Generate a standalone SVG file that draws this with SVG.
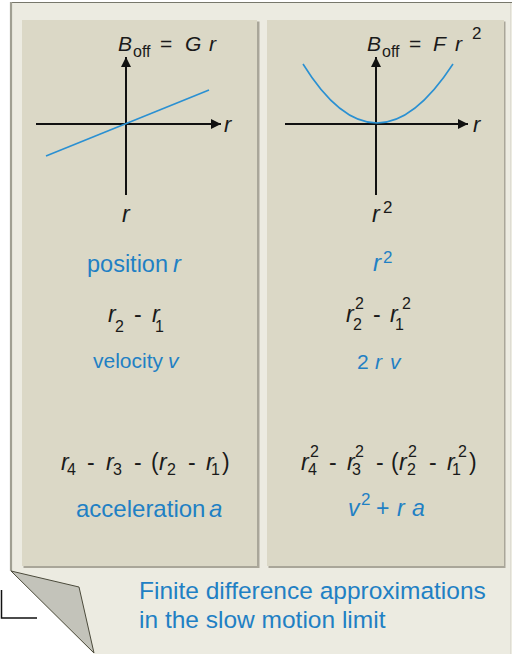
<svg xmlns="http://www.w3.org/2000/svg" width="512" height="654" viewBox="0 0 512 654">
<style>
text{font-family:"Liberation Sans",Arial,sans-serif;fill:#1a1a1a}
.i{font-style:italic}
.b{fill:#1f80c4}
.m{font-size:23px}
.s{font-size:16px}
.axis{stroke:#111;stroke-width:2;fill:none}
.curve{stroke:#2a90d2;stroke-width:1.6;fill:none}
.panel{fill:#dbd8c6}
.shadow{fill:#a9a699}
</style>
<defs>
<marker id="ah" viewBox="0 0 10 10" refX="10" refY="5" markerWidth="10" markerHeight="10" markerUnits="userSpaceOnUse" orient="auto">
<path d="M0,0 L10,5 L0,10 Z" fill="#111"/>
</marker>
</defs>
<rect width="512" height="654" fill="#ffffff"/>
<g id="page">
<path d="M11,2 H512 V654 H94 L11,571 Z" fill="#ecebe1"/>
<line x1="10" y1="2.5" x2="512" y2="2.5" stroke="#77776b" stroke-width="1.2"/>
<line x1="11" y1="2" x2="11" y2="571" stroke="#a09f92" stroke-width="2.2"/>
<line x1="510.5" y1="3" x2="510.5" y2="654" stroke="#dedcd2" stroke-width="1"/>
<path d="M11,571 L79,587 L94,653 Z" fill="#c3c3ba" stroke="#4c4b3c" stroke-width="1"/>
<path d="M1.5,590 V618 H37" fill="none" stroke="#111" stroke-width="1.5"/>
</g>
<g id="panel-left">
<rect class="shadow" x="23.5" y="21.5" width="236" height="546.5"/>
<rect class="panel" x="22" y="20" width="235" height="546"/>
</g>
<g id="panel-right">
<rect class="shadow" x="268.5" y="21.5" width="237" height="546.5"/>
<rect class="panel" x="267" y="20" width="237" height="546"/>
</g>
<g id="connectors">
<line class="axis" x1="126" y1="195" x2="126" y2="57" marker-end="url(#ah)"/>
<line class="axis" x1="36" y1="124" x2="221" y2="124" marker-end="url(#ah)"/>
<line class="axis" x1="376" y1="195" x2="376" y2="57" marker-end="url(#ah)"/>
<line class="axis" x1="285" y1="124" x2="468" y2="124" marker-end="url(#ah)"/>
<line class="curve" x1="46" y1="156" x2="209" y2="90"/>
<path class="curve" d="M303,64 Q376,182 453,64"/>
</g>
<g id="title-left">
<text font-size="21" y="51"><tspan x="118" class="i">B</tspan><tspan x="133" y="57" font-size="16">off</tspan><tspan x="160" y="51">=</tspan><tspan x="185" class="i">G</tspan><tspan x="209" class="i">r</tspan></text>
</g>
<g id="title-right">
<text font-size="21" y="51"><tspan x="367" class="i">B</tspan><tspan x="382" y="57" font-size="16">off</tspan><tspan x="409" y="51">=</tspan><tspan x="433" class="i">F</tspan><tspan x="455" class="i">r</tspan><tspan x="472" y="39" font-size="17">2</tspan></text>
</g>
<g id="axis-labels">
<text class="i" font-size="22" x="224" y="132">r</text>
<text class="i" font-size="22" x="473" y="132">r</text>
<text class="i" font-size="23" x="122" y="222">r</text>
<text font-size="23" y="222"><tspan class="i" x="372">r</tspan><tspan x="383" y="213" font-size="17">2</tspan></text>
</g>
<g id="left-column">
<text class="b" font-size="23.5" y="272"><tspan x="87">position</tspan><tspan class="i" x="173">r</tspan></text>
<text class="m" y="322"><tspan class="i" x="108">r</tspan><tspan class="s" x="115" y="332">2</tspan><tspan x="134" y="322">-</tspan><tspan class="i" x="152">r</tspan><tspan class="s" x="155" y="332">1</tspan></text>
<text class="b" font-size="21" y="368"><tspan x="93">velocity</tspan><tspan class="i" x="168">v</tspan></text>
<text class="m" y="470"><tspan class="i" x="61">r</tspan><tspan class="s" x="67" y="475">4</tspan><tspan x="87" y="470">-</tspan><tspan class="i" x="106">r</tspan><tspan class="s" x="113" y="475">3</tspan><tspan x="134" y="470">-</tspan><tspan x="151">(</tspan><tspan class="i" x="159">r</tspan><tspan class="s" x="167" y="475">2</tspan><tspan x="188" y="470">-</tspan><tspan class="i" x="206">r</tspan><tspan class="s" x="211" y="475">1</tspan><tspan x="222" y="470">)</tspan></text>
<text class="b" font-size="24" y="517"><tspan x="76">acceleration</tspan><tspan class="i" x="209">a</tspan></text>
</g>
<g id="right-column">
<text class="b" font-size="24" y="271"><tspan class="i" x="373">r</tspan><tspan x="383" y="263" font-size="17">2</tspan></text>
<text class="m" y="322"><tspan class="i" x="346">r</tspan><tspan class="s" x="353" y="330">2</tspan><tspan class="s" x="355" y="309">2</tspan><tspan x="373" y="322">-</tspan><tspan class="i" x="390">r</tspan><tspan class="s" x="395" y="330">1</tspan><tspan class="s" x="402" y="309">2</tspan></text>
<text class="b" font-size="21" y="369"><tspan x="357">2</tspan><tspan class="i" x="375">r</tspan><tspan class="i" x="390">v</tspan></text>
<text class="m" y="470"><tspan class="i" x="301">r</tspan><tspan class="s" x="308" y="475">4</tspan><tspan class="s" x="310" y="457">2</tspan><tspan x="329" y="470">-</tspan><tspan class="i" x="347">r</tspan><tspan class="s" x="352" y="475">3</tspan><tspan class="s" x="355" y="457">2</tspan><tspan x="376" y="470">-</tspan><tspan x="391">(</tspan><tspan class="i" x="399">r</tspan><tspan class="s" x="407" y="475">2</tspan><tspan class="s" x="408" y="457">2</tspan><tspan x="429" y="470">-</tspan><tspan class="i" x="447">r</tspan><tspan class="s" x="452" y="475">1</tspan><tspan class="s" x="458" y="457">2</tspan><tspan x="469" y="470">)</tspan></text>
<text class="b m" y="516"><tspan class="i" x="348">v</tspan><tspan x="361" y="505" font-size="17">2</tspan><tspan x="376" y="516">+</tspan><tspan class="i" x="397">r</tspan><tspan class="i" x="412">a</tspan></text>
</g>
<g id="caption">
<text class="b" font-size="24.5" x="139" y="599">Finite difference approximations</text>
<text class="b" font-size="24.5" x="139" y="628">in the slow motion limit</text>
</g>
</svg>
